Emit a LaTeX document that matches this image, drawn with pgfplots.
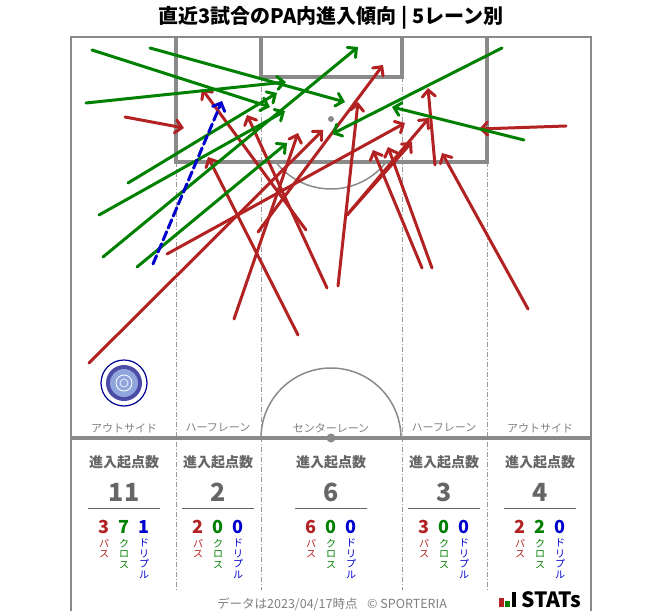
\documentclass[border=0pt]{standalone}
\usepackage{fontspec}
\setmainfont{Noto Sans CJK JP}
\usepackage{pgfplots}
\pgfplotsset{compat=1.18}
\usetikzlibrary{arrows.meta}
\definecolor{pline}{HTML}{8A8A8A}
\definecolor{dline}{HTML}{9A9A9A}
\definecolor{pas}{HTML}{B22222}
\definecolor{crs}{HTML}{008000}
\definecolor{drb}{HTML}{0000CD}
\definecolor{txtg}{HTML}{666666}
\definecolor{lanet}{HTML}{808080}
\pgfplotsset{
  arr/.style={line width=3pt, line cap=round, -{Straight Barb[length=6.5pt,width=13pt,line cap=round]}},
}
\newcommand{\fs}[1]{\fontsize{#1}{#1}\selectfont}
\newcommand{\statcol}[5]{%
  \node[text=txtg, font=\fs{14}\bfseries, inner sep=0pt] at (axis cs:#1,462) {進入起点数};
  \node[text=txtg, font=\fs{25}\bfseries, inner sep=0pt] at (axis cs:#1,492) {#2};
  \draw[txtg, line width=1pt] (axis cs:#1,508) ++(-36pt,0) -- ++(72pt,0);
  \node[text=pas, font=\fs{18}\bfseries, inner sep=0pt] at (axis cs:#1,527) [xshift=-20pt] {#3};
  \node[text=crs, font=\fs{18}\bfseries, inner sep=0pt] at (axis cs:#1,527) {#4};
  \node[text=drb, font=\fs{18}\bfseries, inner sep=0pt] at (axis cs:#1,527) [xshift=20pt] {#5};
  \node[text=pas, font=\fontsize{10}{10.5}\selectfont, align=center, anchor=north, inner sep=0pt] at (axis cs:#1,539) [xshift=-20pt] {パ\\ス};
  \node[text=crs, font=\fontsize{10}{10.5}\selectfont, align=center, anchor=north, inner sep=0pt] at (axis cs:#1,539) {ク\\ロ\\ス};
  \node[text=drb, font=\fontsize{10}{10.5}\selectfont, align=center, anchor=north, inner sep=0pt] at (axis cs:#1,539) [xshift=20pt] {ド\\リ\\プ\\ル};
}
\begin{document}
\begin{tikzpicture}
\begin{axis}[scale only axis, width=663pt, height=611pt,
  xmin=0, xmax=663, ymin=0, ymax=611, y dir=reverse,
  hide axis, clip=false]
\path (axis cs:0,0) rectangle (axis cs:663,611);
% title
\node[font=\fs{20}\bfseries, inner sep=0pt] at (axis cs:331,18) {直近3試合のPA内進入傾向 | 5レーン別};
% lane dividers
\draw[dline, line width=0.8pt, dash pattern=on 5pt off 2pt on 1pt off 2pt] (axis cs:176,162) -- (axis cs:176,590);
\draw[dline, line width=0.8pt, dash pattern=on 5pt off 2pt on 1pt off 2pt] (axis cs:487,162) -- (axis cs:487,590);
\draw[dline, line width=0.8pt, dash pattern=on 5pt off 2pt on 1pt off 2pt] (axis cs:261,77) -- (axis cs:261,590);
\draw[dline, line width=0.8pt, dash pattern=on 5pt off 2pt on 1pt off 2pt] (axis cs:402,77) -- (axis cs:402,590);
% arcs
\addplot[pline, line width=1.5pt, domain=180:360, samples=61] ({331+70*cos(x)},{438+70*sin(x)});
\addplot[pline, line width=1.5pt, domain=37.9:142.1, samples=41] ({331+70*cos(x)},{119+70*sin(x)});
% pitch frame
\draw[pline, line width=2pt] (axis cs:71,611) -- (axis cs:71,37) -- (axis cs:591,37) -- (axis cs:591,611);
\draw[pline, line width=4pt, line join=miter] (axis cs:176,37) -- (axis cs:176,162) -- (axis cs:487,162) -- (axis cs:487,37);
\draw[pline, line width=4pt, line join=miter] (axis cs:261,37) -- (axis cs:261,77) -- (axis cs:402,77) -- (axis cs:402,37);
\draw[pline, line width=4pt] (axis cs:71,438) -- (axis cs:591,438);
\fill[pline] (axis cs:331,119) circle[radius=3pt];
\fill[pline] (axis cs:331,438) circle[radius=4.5pt];
% logo
\fill[white] (axis cs:124,383) circle[radius=24pt];
\draw[blue!60!black, line width=1.2pt] (axis cs:124,383) circle[radius=23pt];
\fill[blue!50!black!70] (axis cs:124,383) circle[radius=18pt];
\fill[cyan!40!blue!45] (axis cs:124,383) circle[radius=14pt];
\draw[white, line width=0.8pt] (axis cs:124,383) circle[radius=8pt];
\draw[white, line width=0.6pt] (axis cs:124,383) circle[radius=4pt];
% lane labels
\node[text=lanet, font=\fs{11}, inner sep=0pt] at (axis cs:124,428) {アウトサイド};
\node[text=lanet, font=\fs{11}, inner sep=0pt] at (axis cs:218,428) {ハーフレーン};
\node[text=lanet, font=\fs{11}, inner sep=0pt] at (axis cs:331,428) {センターレーン};
\node[text=lanet, font=\fs{11}, inner sep=0pt] at (axis cs:444,428) {ハーフレーン};
\node[text=lanet, font=\fs{11}, inner sep=0pt] at (axis cs:540,428) {アウトサイド};
% passes
\addplot[pas, arr] coordinates {(125,117) (184,128)};
\addplot[pas, arr] coordinates {(89,363) (323,130)};
\addplot[pas, arr] coordinates {(167,254) (405,123)};
\addplot[pas, arr] coordinates {(234,319) (298,133)};
\addplot[pas, arr] coordinates {(258,232) (383,65)};
\addplot[pas, arr] coordinates {(298,335) (208,157)};
\addplot[pas, arr] coordinates {(306,230) (202,89)};
\addplot[pas, arr] coordinates {(327,288) (247,115)};
\addplot[pas, arr] coordinates {(338,286) (358,102)};
\addplot[pas, arr] coordinates {(347,215) (412,142)};
\addplot[pas, arr] coordinates {(347,215) (429,118)};
\addplot[pas, arr] coordinates {(422,268) (373,150)};
\addplot[pas, arr] coordinates {(432,268) (388,147)};
\addplot[pas, arr] coordinates {(435,165) (428,88)};
\addplot[pas, arr] coordinates {(528,309) (442,153)};
\addplot[pas, arr] coordinates {(566,126) (479,129)};
% crosses
\addplot[crs, arr] coordinates {(92,50) (270,107)};
\addplot[crs, arr] coordinates {(150,48) (345,102)};
\addplot[crs, arr] coordinates {(86,103) (286,82)};
\addplot[crs, arr] coordinates {(128,183) (277,93)};
\addplot[crs, arr] coordinates {(99,215) (285,111)};
\addplot[crs, arr] coordinates {(103,257) (358,47)};
\addplot[crs, arr] coordinates {(137,267) (287,143)};
\addplot[crs, arr] coordinates {(502,48) (332,134)};
\addplot[crs, arr] coordinates {(524,140) (392,107)};
% dribble
\addplot[drb, arr, dash pattern=on 9pt off 4pt] coordinates {(153,264) (222,101)};
% stats
\statcol{124}{11}{3}{7}{1}
\statcol{218}{2}{2}{0}{0}
\statcol{331}{6}{6}{0}{0}
\statcol{444}{3}{3}{0}{0}
\statcol{540}{4}{2}{2}{0}
% footer
\node[text=lanet, font=\fs{12.5}, inner sep=0pt, anchor=west] at (axis cs:217,604) {データは2023/04/17時点};
\node[text=lanet, font=\fs{12.5}, inner sep=0pt, anchor=west] at (axis cs:367,604) {© SPORTERIA};
\fill[pas] (axis cs:499,598) rectangle (axis cs:504,607);
\fill[crs] (axis cs:505,601) rectangle (axis cs:510,607);
\fill[black] (axis cs:512,592) rectangle (axis cs:516,607);
\node[font=\fs{21}\bfseries, inner sep=0pt, anchor=west] at (axis cs:521,600) {STATs};
\end{axis}
\end{tikzpicture}
\end{document}
